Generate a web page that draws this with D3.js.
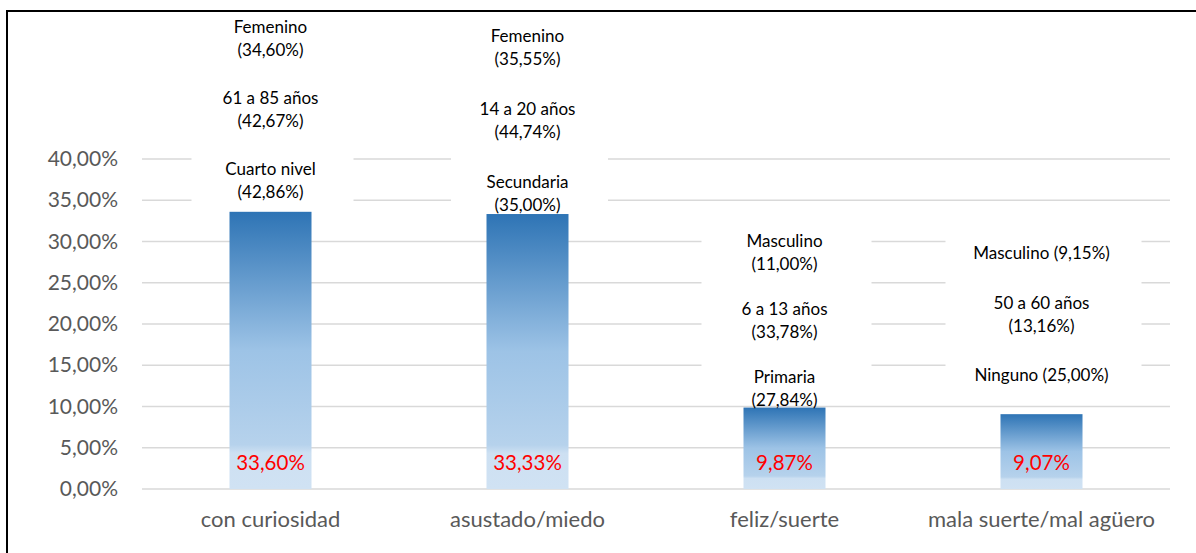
<!DOCTYPE html>
<html>
<head>
<meta charset="utf-8">
<script src="https://cdn.jsdelivr.net/npm/d3@7"></script>
<style>
  body { margin: 0; background: #fff; }
  svg { display: block; font-family: Lato, "Noto Sans", sans-serif; }
</style>
</head>
<body>
<svg id="chart" width="1196" height="553"></svg>
<script>
// data
let categories = ['con curiosidad', 'asustado/miedo', 'feliz/suerte', 'mala suerte/mal agüero'];
let values = [33.60, 33.33, 9.87, 9.07];
let valueLabels = ['33,60%', '33,33%', '9,87%', '9,07%'];
let yTicks = [0, 5, 10, 15, 20, 25, 30, 35, 40];
// annotation groups per bar (sex / age / education)
let sexNotes = [['Femenino', '(34,60%)'], ['Femenino', '(35,55%)'], ['Masculino', '(11,00%)'], ['Masculino (9,15%)']];
let ageNotes = [['61 a 85 años', '(42,67%)'], ['14 a 20 años', '(44,74%)'], ['6 a 13 años', '(33,78%)'], ['50 a 60 años', '(13,16%)']];
let eduNotes = [['Cuarto nivel', '(42,86%)'], ['Secundaria', '(35,00%)'], ['Primaria', '(27,84%)'], ['Ninguno (25,00%)']];

// layout of the note boxes (px), kept apart from the data
let noteTop = [26, 35, 240, 241];
let noteGap = [71, 73, 68, 61];
let boxW = [162, 157, 170, 196];
let boxY = [[12, 205], [20, 212], [225, 402], [232, 395]];
let lineH = 23.5;

let svg = d3.select('#chart');
let margin = { top: 159, right: 26, bottom: 64, left: 142 };
let W = 1196, H = 553;

let x = d3.scaleBand().domain(categories).range([margin.left, W - margin.right]).paddingInner(0).paddingOuter(0);
let y = d3.scaleLinear().domain([0, 40]).range([H - margin.bottom, margin.top]);
let barW = 82;

// gradient per bar
let defs = svg.append('defs');
let grad = defs.append('linearGradient').attr('id', 'barGrad')
  .attr('x1', 0).attr('y1', 0).attr('x2', 0).attr('y2', 1);
grad.append('stop').attr('offset', '0%').attr('stop-color', '#2e74b5');
grad.append('stop').attr('offset', '50%').attr('stop-color', '#9dc3e6');
grad.append('stop').attr('offset', '84%').attr('stop-color', '#b6d2ec');
grad.append('stop').attr('offset', '87%').attr('stop-color', '#cde0f2');
grad.append('stop').attr('offset', '100%').attr('stop-color', '#d0e2f3');

// outer frame
svg.append('rect').attr('x', 7).attr('y', 11).attr('width', 1210).attr('height', 570)
  .attr('fill', 'none').attr('stroke', '#000').attr('stroke-width', 2);

// gridlines
svg.append('g').selectAll('line').data(yTicks).enter().append('line')
  .attr('x1', margin.left).attr('x2', W - margin.right)
  .attr('y1', d => y(d)).attr('y2', d => y(d))
  .attr('stroke', '#d9d9d9').attr('stroke-width', 1.5);

// y axis labels
let yAxis = d3.axisLeft(y).tickValues(yTicks).tickSize(0).tickPadding(24)
  .tickFormat(d => d3.format('.2f')(d).replace('.', ',') + '%');
svg.append('g').attr('transform', `translate(${margin.left},0)`).call(yAxis)
  .call(g => g.select('.domain').remove())
  .selectAll('text').attr('fill', '#595959').style('font-size', '21px').style('font-family', 'Lato, sans-serif');

// x axis labels
let xAxis = d3.axisBottom(x).tickSize(0).tickPadding(22);
svg.append('g').attr('transform', `translate(0,${y(0)})`).call(xAxis)
  .call(g => g.select('.domain').remove())
  .selectAll('text').attr('fill', '#595959').style('font-size', '22px').style('font-family', 'Lato, sans-serif');

// bars
svg.append('g').selectAll('rect').data(values).enter().append('rect')
  .attr('x', (d, i) => x(categories[i]) + x.bandwidth() / 2 - barW / 2)
  .attr('y', d => y(d))
  .attr('width', barW)
  .attr('height', d => y(0) - y(d))
  .attr('fill', 'url(#barGrad)');

// red value labels
svg.append('g').selectAll('text').data(valueLabels).enter().append('text')
  .attr('x', (d, i) => x(categories[i]) + x.bandwidth() / 2)
  .attr('y', y(0) - 27)
  .attr('text-anchor', 'middle').attr('dominant-baseline', 'central')
  .attr('fill', '#ff0000').style('font-size', '20.5px')
  .text(d => d);

// note boxes + text
let notes = categories.map((c, i) => [sexNotes[i], ageNotes[i], eduNotes[i]]);
let ng = svg.append('g').selectAll('g').data(notes).enter().append('g');
ng.append('rect')
  .attr('x', (d, i) => x(categories[i]) + x.bandwidth() / 2 - boxW[i] / 2 + 2)
  .attr('y', (d, i) => boxY[i][0])
  .attr('width', (d, i) => boxW[i])
  .attr('height', (d, i) => boxY[i][1] - boxY[i][0])
  .attr('fill', '#fff');
ng.each(function(groups, i) {
  let cx = x(categories[i]) + x.bandwidth() / 2;
  let g = d3.select(this);
  groups.forEach((lines, k) => {
    let slotTop = noteTop[i] + k * noteGap[i];
    let shift = lines.length === 1 ? lineH / 2 : 0;
    lines.forEach((t, j) => {
      g.append('text')
        .attr('x', cx)
        .attr('y', slotTop + shift + j * lineH)
        .attr('text-anchor', 'middle').attr('dominant-baseline', 'central')
        .attr('fill', '#000').style('font-size', '17px')
        .text(t);
    });
  });
});
</script>
</body>
</html>
